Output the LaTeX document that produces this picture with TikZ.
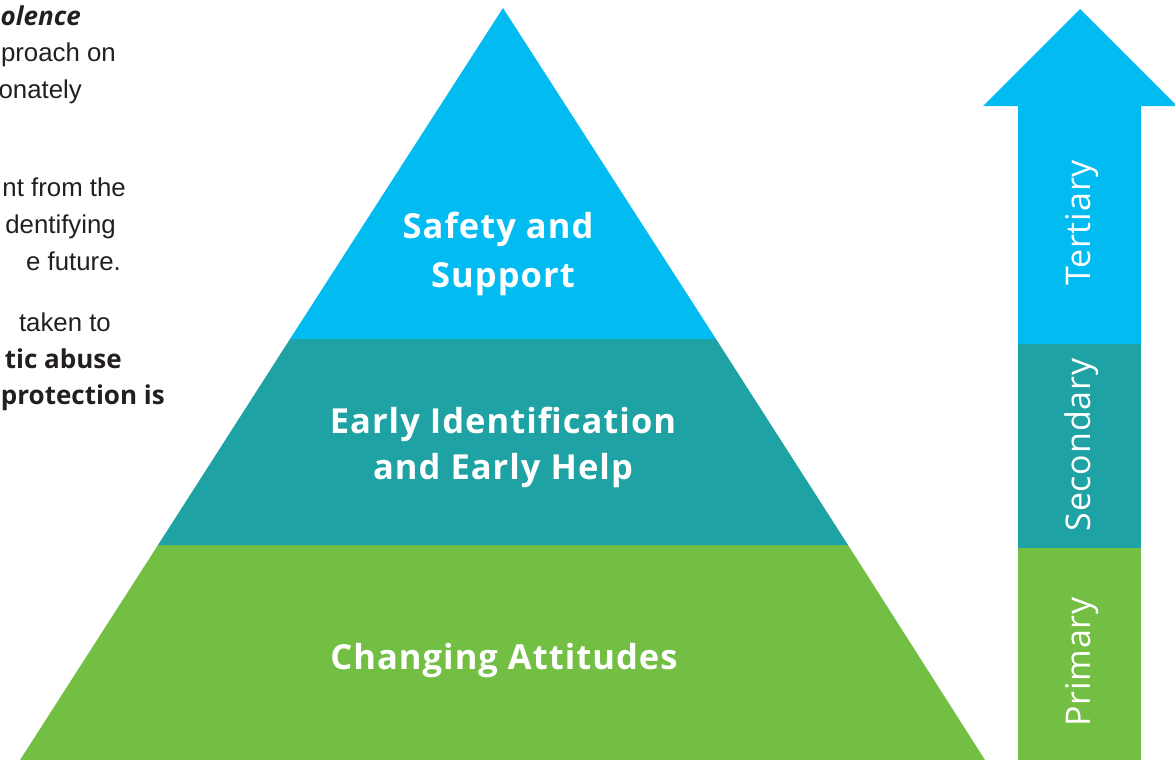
\documentclass[tikz,border=0pt]{standalone}
\usepackage{fontspec}
\setmainfont{Liberation Sans}
\newfontfamily\labfont{Open Sans}[LetterSpace=3]
\newfontfamily\sidefont{Open Sans}[LetterSpace=2.5]
\newfontfamily\boldtext{Open Sans}
\definecolor{tierblue}{RGB}{2,187,241}
\definecolor{tierteal}{RGB}{30,162,163}
\definecolor{tiergreen}{RGB}{114,191,68}
\definecolor{bodytext}{RGB}{35,31,32}
\tikzset{
  tier/.style={inner sep=0pt, text=white, font=\labfont\bfseries\fontsize{34.5}{40}\selectfont, anchor=base},
  sidelabel/.style={inner sep=0pt, text=white, font=\sidefont\fontsize{34}{40}\selectfont, anchor=base, rotate=90},
  bodyline/.style={inner sep=0pt, text=bodytext, font=\fontsize{25.8}{30}\selectfont, anchor=base east},
  bodybold/.style={inner sep=0pt, text=bodytext, font=\boldtext\bfseries\fontsize{26}{30}\selectfont, anchor=base east},
}
\begin{document}
\begin{tikzpicture}[x=1pt,y=-1pt]
\useasboundingbox (0,0) rectangle (1175,760);
% pyramid
\fill[tiergreen] (20,760) -- (985,760) -- (848,545) -- (158,545) -- cycle;
\fill[tierteal] (158,545) -- (848,545) -- (716,339) -- (290,339) -- cycle;
\fill[tierblue] (290,339) -- (716,339) -- (503,8) -- cycle;
% arrow
\fill[tierblue] (1018,344) -- (1018,106) -- (983,106) -- (1080,9) -- (1177,106) -- (1141,106) -- (1141,344) -- cycle;
\fill[tierteal] (1018,344) rectangle (1141,548);
\fill[tiergreen] (1018,548) rectangle (1141,760);
% pyramid labels
\node[tier] (safety1) at (498,238) {Safety and};
\node[tier] (safety2) at (503,287) {Support};
\node[tier] (early1) at (503,433) {Early Identification};
\node[tier] (early2) at (503,479) {and Early Help};
\node[tier] (attitudes) at (504,669) {Changing Attitudes};
% arrow labels
\node[sidelabel] (tertiary) at (1090,223) {Tertiary};
\node[sidelabel] (secondary) at (1090,445) {Secondary};
\node[sidelabel] (primary) at (1090,662) {Primary};
% cut-off body text
\node[bodybold] (t1) at (81,26) {\itshape olence};
\node[bodyline] (t2) at (116,62) {proach on};
\node[bodyline] (t3) at (82,99) {onately};
\node[bodyline] (t4) at (126,196) {nt from the};
\node[bodyline] (t5) at (116,233) {dentifying};
\node[bodyline] (t6) at (121,270) {e future.};
\node[bodyline] (t7) at (111,331) {taken to};
\node[bodybold] (t8) at (122,368) {tic abuse};
\node[bodybold] (t9) at (165,404) {protection is};
\end{tikzpicture}
\end{document}
